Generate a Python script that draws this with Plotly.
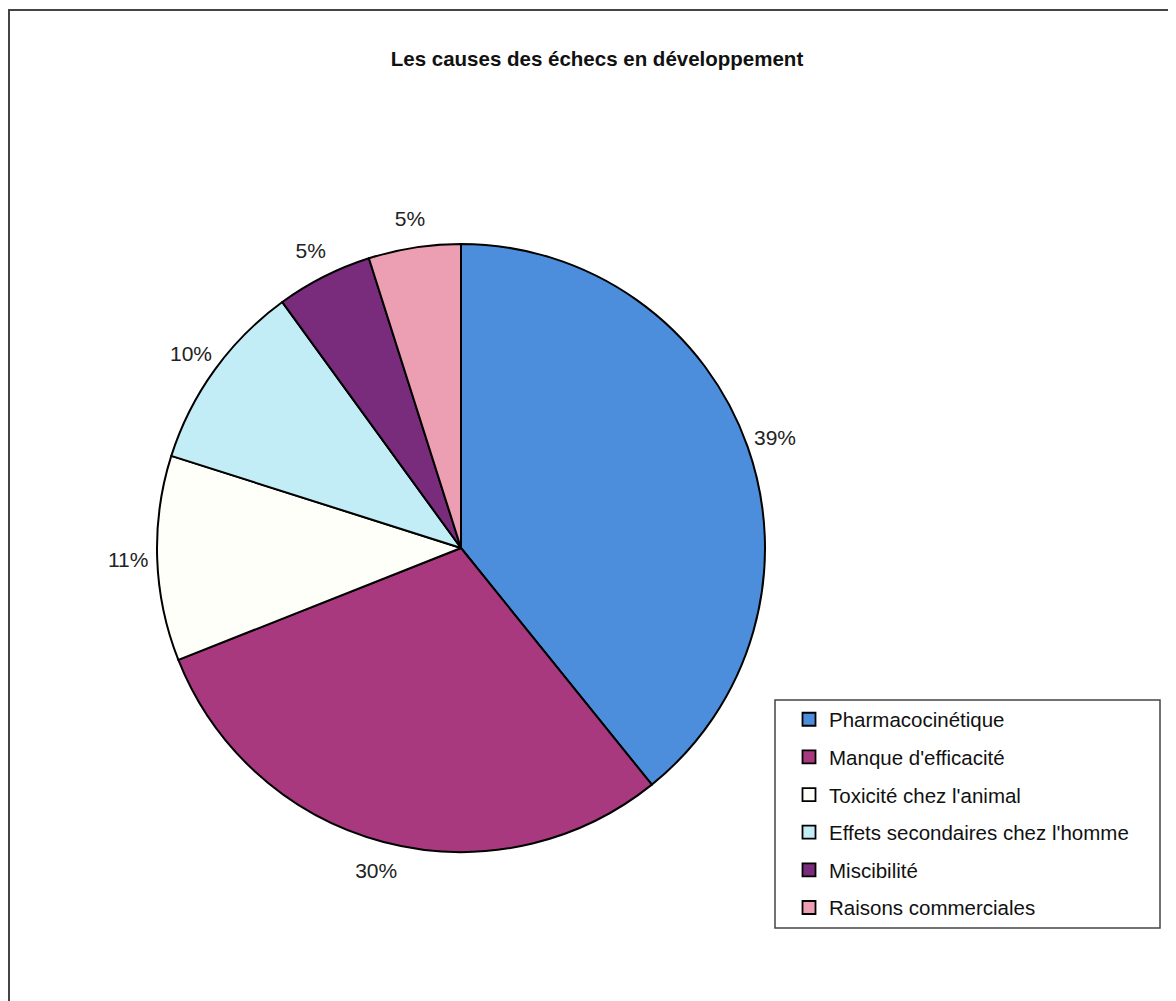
import plotly.graph_objects as go

categories = ["Pharmacocinétique", "Manque d'efficacité", "Toxicité chez l'animal",
              "Effets secondaires chez l'homme", "Miscibilité", "Raisons commerciales"]
values = [39.2, 29.8, 10.9, 10.1, 5.1, 4.9]
colors = ["#4C8EDC", "#A8397F", "#FFFFFA", "#C2ECF6", "#7A2C7C", "#EC9EB2"]
title_text = "Les causes des échecs en développement"

W, H = 1176, 1001
OFF = 8  # page body margin
cx, cy, r = 461 - OFF, 548 - OFF, 304
R2, hole = 370, 0.8  # transparent ring used to place the percentage labels


def dom(rad):
    return dict(x=[(cx - rad) / W, (cx + rad) / W], y=[1 - (cy + rad) / H, 1 - (cy - rad) / H])


fig = go.Figure()
fig.add_trace(go.Pie(
    labels=categories, values=values, sort=False, direction="clockwise", rotation=0,
    marker=dict(colors=colors, line=dict(color="black", width=2)),
    textinfo="none", showlegend=False, hoverinfo="label+percent", domain=dom(r),
))
fig.add_trace(go.Pie(
    labels=categories, values=values, sort=False, direction="clockwise", rotation=0, hole=hole,
    marker=dict(colors=["rgba(0,0,0,0)"] * len(values), line=dict(width=0)),
    texttemplate="%{percent:.0%}", textposition="inside", insidetextorientation="horizontal",
    textfont=dict(family="Liberation Sans, Arial, sans-serif", size=21, color="#222"),
    showlegend=False, hoverinfo="skip", domain=dom(R2),
))
for i, (name, col) in enumerate(zip(categories, colors)):
    fig.add_trace(go.Scatter(
        x=[None], y=[None], mode="markers", name=name, legendgroup=f"g{i}",
        marker=dict(symbol="square", size=13, color=col, line=dict(color="black", width=1.8)),
    ))

fig.update_layout(
    width=W, height=H, margin=dict(l=0, r=0, t=0, b=0),
    paper_bgcolor="white", plot_bgcolor="white",
    xaxis=dict(visible=False), yaxis=dict(visible=False),
    title=dict(text=title_text, x=(597 - OFF) / W, xanchor="center", y=1 - (59 - OFF) / H, yanchor="middle",
               font=dict(family="Liberation Sans, Arial, sans-serif", size=20.5, color="#111", weight="bold")),
    legend=dict(x=(829 - OFF - 40) / W, y=1 - (721 - OFF - 21.6) / H, xanchor="left", yanchor="top",
                bgcolor="rgba(0,0,0,0)", borderwidth=0,
                font=dict(family="Liberation Sans, Arial, sans-serif", size=20.5, color="#111"),
                tracegroupgap=8, itemwidth=30),
    shapes=[
        dict(type="rect", xref="paper", yref="paper", x0=(9 - OFF) / W, x1=1.02, y0=-0.02, y1=1 - (10 - OFF) / H,
             line=dict(color="#444", width=2), fillcolor="rgba(0,0,0,0)", layer="below"),
        dict(type="rect", xref="paper", yref="paper", x0=(775 - OFF) / W, x1=(1160 - OFF) / W,
             y0=1 - (928 - OFF) / H, y1=1 - (700 - OFF) / H,
             line=dict(color="#444", width=1.5), fillcolor="white", layer="above"),
    ],
)
fig.write_html("out.html")
